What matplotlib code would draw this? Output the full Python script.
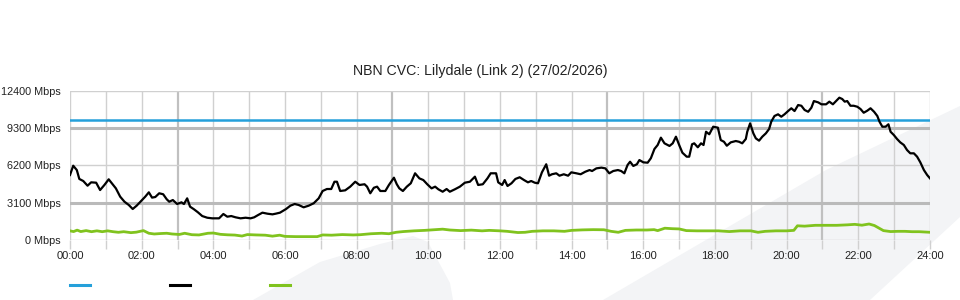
import matplotlib
matplotlib.use("Agg")
import matplotlib.pyplot as plt
from matplotlib.patches import Polygon
from matplotlib.lines import Line2D

# ---- data ----
title = "NBN CVC: Lilydale (Link 2) (27/02/2026)"
x_tick_labels = ["00:00", "02:00", "04:00", "06:00", "08:00", "10:00", "12:00",
                 "14:00", "16:00", "18:00", "20:00", "22:00", "24:00"]
y_tick_values = [0, 3100, 6200, 9300, 12400]
capacity_mbps = 10000

total_hours = [
    0.00, 0.09, 0.19, 0.26, 0.37, 0.49, 0.59, 0.73, 0.84, 0.96, 1.08, 1.19, 1.28,
    1.40, 1.52, 1.64, 1.75, 1.86, 2.01, 2.10, 2.20, 2.29, 2.38, 2.49, 2.60, 2.70,
    2.77, 2.87, 2.99, 3.11, 3.18, 3.27, 3.35, 3.46, 3.57, 3.69, 3.83, 3.97, 4.16,
    4.28, 4.39, 4.50, 4.62, 4.76, 4.90, 5.04, 5.14, 5.25, 5.37, 5.51, 5.65, 5.74,
    5.86, 6.03, 6.15, 6.27, 6.38, 6.52, 6.66, 6.80, 6.94, 7.05, 7.17, 7.29, 7.38,
    7.45, 7.54, 7.68, 7.82, 7.96, 8.08, 8.22, 8.29, 8.38, 8.48, 8.57, 8.66, 8.80,
    8.90, 9.04, 9.12, 9.19, 9.29, 9.40, 9.51, 9.63, 9.75, 9.86, 9.97, 10.09, 10.19,
    10.28, 10.40, 10.51, 10.60, 10.74, 10.88, 11.02, 11.16, 11.30, 11.39, 11.52,
    11.65, 11.74, 11.89, 11.95, 12.06, 12.13, 12.21, 12.32, 12.43, 12.55, 12.67,
    12.78, 12.87, 12.97, 13.06, 13.17, 13.29, 13.37, 13.45, 13.57, 13.66, 13.78,
    13.90, 13.99, 14.13, 14.25, 14.38, 14.50, 14.57, 14.69, 14.83, 14.94, 15.05,
    15.16, 15.29, 15.38, 15.47, 15.56, 15.63, 15.72, 15.82, 15.89, 16.00, 16.12,
    16.21, 16.31, 16.40, 16.49, 16.59, 16.73, 16.82, 16.91, 17.00, 17.09, 17.21,
    17.28, 17.36, 17.42, 17.52, 17.61, 17.68, 17.75, 17.84, 17.95, 18.08, 18.16,
    18.25, 18.33, 18.44, 18.58, 18.67, 18.76, 18.86, 18.90, 18.98, 19.07, 19.14,
    19.23, 19.32, 19.42, 19.51, 19.57, 19.66, 19.76, 19.85, 19.94, 20.04, 20.13,
    20.22, 20.32, 20.41, 20.50, 20.60, 20.69, 20.76, 20.88, 20.97, 21.10, 21.19,
    21.29, 21.38, 21.47, 21.55, 21.62, 21.69, 21.78, 21.87, 21.97, 22.06, 22.15,
    22.25, 22.34, 22.44, 22.53, 22.59, 22.67, 22.76, 22.84, 22.90, 22.99, 23.08,
    23.17, 23.27, 23.36, 23.45, 23.55, 23.64, 23.73, 23.83, 23.92, 24.00]
total_mbps = [
    5400, 6170, 5810, 5070, 4900, 4510, 4790, 4760, 4150, 4570, 5040, 4630, 4290,
    3600, 3180, 2910, 2575, 2850, 3320, 3600, 3960, 3520, 3570, 3880, 3800, 3380,
    3180, 3320, 2990, 3130, 2990, 3460, 2770, 2550, 2300, 1990, 1850, 1800, 1800,
    2160, 1935, 1990, 1885, 1800, 1850, 1800, 1885, 2075, 2270, 2185, 2130, 2185,
    2270, 2575, 2850, 2990, 2910, 2715, 2850, 3050, 3460, 4070, 4235, 4235, 4840,
    4840, 4070, 4125, 4430, 4840, 4570, 4630, 4430, 3880, 4340, 4430, 4070, 4070,
    4570, 5175, 4630, 4290, 4070, 4430, 4710, 5540, 5120, 4980, 4630, 4290, 4430,
    4210, 4010, 4235, 4010, 4210, 4430, 4760, 4840, 5260, 4570, 4630,
    5120, 5540, 5540, 4790, 4570, 4980, 4485, 4710, 5070, 5210, 4980,
    4790, 4900, 4760, 4710, 5620, 6290, 5340, 5460, 5540, 5340, 5460,
    5340, 5620, 5540, 5460, 5670, 5810, 5730, 5950, 6010, 5950, 5540,
    5730, 5810, 5730, 5540, 6230, 6500, 6150, 6290, 6640, 6450, 6420,
    6790, 7560, 7890, 8500, 8030, 7810, 8030, 8580, 7890, 7250, 6920,
    6920, 7950, 8030, 7700, 8030, 7890, 8990, 8780, 9410, 9330, 8300,
    8160, 7830, 8110, 8220, 8160, 8030, 8390, 8990, 9690, 8860, 8440,
    8250, 8580, 8860, 9220, 9830, 10300, 10440, 10240, 10440, 10710, 10940,
    10710, 11210, 11150, 10800, 10650, 10990, 11540, 11430, 11270, 11270, 11490,
    11270, 11540, 11820, 11710, 11490, 11540, 11150, 11150, 11070, 10880, 10570,
    10740, 10940, 10650, 10300, 9830, 9410, 9410, 9610, 8990, 8720, 8390,
    8110, 7890, 7470, 7200, 7200, 6920, 6450, 5810, 5400, 5120]

green_hours = [
    0.0, 0.1, 0.2, 0.3, 0.45, 0.6, 0.75, 0.9, 1.05, 1.2, 1.35, 1.5, 1.7, 1.85,
    2.05, 2.2, 2.35, 2.55, 2.7, 2.85, 3.05, 3.2, 3.4, 3.6, 3.85, 4.0, 4.2, 4.4,
    4.6, 4.8, 4.95, 5.2, 5.45, 5.65, 5.85, 6.0, 6.3, 6.6, 6.9, 7.05, 7.3, 7.6,
    7.9, 8.1, 8.4, 8.7, 8.9, 9.1, 9.3, 9.6, 9.9, 10.2, 10.4, 10.6, 10.9, 11.2,
    11.5, 11.7, 12.0, 12.2, 12.5, 12.7, 12.9, 13.2, 13.5, 13.8, 14.0, 14.3, 14.6,
    14.9, 15.1, 15.3, 15.5, 15.8, 16.1, 16.3, 16.4, 16.6, 16.8, 17.0, 17.2, 17.5,
    17.8, 18.1, 18.4, 18.7, 19.0, 19.2, 19.4, 19.7, 20.0, 20.2, 20.3, 20.5, 20.8,
    21.1, 21.4, 21.7, 21.9, 22.1, 22.3, 22.45, 22.7, 22.9, 23.1, 23.3, 23.5, 23.7,
    24.0]
green_mbps = [
    760, 700, 820, 700, 780, 690, 760, 690, 760, 690, 640, 690, 610, 650,
    780, 560, 500, 540, 560, 500, 460, 560, 440, 420, 560, 580, 470, 430,
    410, 330, 450, 420, 400, 320, 400, 300, 280, 280, 280, 420, 400, 450,
    420, 440, 520, 560, 520, 640, 700, 760, 800, 860, 900, 830, 780, 820,
    760, 800, 760, 720, 620, 640, 720, 760, 760, 720, 800, 840, 860,
    850, 720, 640, 800, 830, 830, 860, 780, 980, 940, 920, 780, 760,
    760, 760, 700, 760, 760, 640, 720, 760, 760, 800, 1180, 1150, 1220,
    1220, 1220, 1260, 1300, 1230, 1330, 1200, 780, 700, 720, 720, 690, 690,
    640]

# ---- figure ----
W, H = 960, 300
fig = plt.figure(figsize=(W / 100, H / 100), dpi=100)
plt.rcParams['font.family'] = ['Liberation Sans', 'DejaVu Sans']

# background watermark shapes (figure pixel coords -> fractions)
def fpoly(pts):
    return [(x / W, 1 - y / H) for x, y in pts]

wm = '#f3f4f6'
fig.patches.append(Polygon(fpoly([(253, 300), (320, 262), (380, 244), (413, 236),
                                  (428, 242), (450, 283), (453, 300)]),
                           closed=True, transform=fig.transFigure,
                           facecolor=wm, edgecolor='none', zorder=-5))
fig.patches.append(Polygon(fpoly([(603, 300), (826, 170), (960, 106), (960, 217),
                                  (870, 300)]),
                           closed=True, transform=fig.transFigure,
                           facecolor=wm, edgecolor='none', zorder=-5))

ax = fig.add_axes([70 / W, 60 / H, 860 / W, 149.3 / H])
ax.set_zorder(5)
ax.set_facecolor('none')
ax.set_xlim(0, 24)
ax.set_ylim(0, 12400)
for s in ax.spines.values():
    s.set_visible(False)

# grid
thin = '#d0d0d0'
thick = '#c0c0c0'
for h in range(25):
    if h % 6 == 3:
        ax.axvline(h, color=thick, lw=1.6, zorder=1)
    else:
        ax.axvline(h, color=thin, lw=1.0, zorder=1)
for v in y_tick_values:
    if v in (3100, 9300):
        ax.axhline(v, color='#bababa', lw=2.2, zorder=1)
    else:
        ax.axhline(v, color=thin, lw=1.0, zorder=1)

ax.set_xticks(range(0, 25, 2))
ax.set_xticklabels(x_tick_labels)
ax.set_xticks(range(0, 25), minor=True)
ax.tick_params(axis='x', which='both', length=6.5, width=1.0, color=thin,
               pad=1.5, labelsize=8, labelcolor='#222222')
ax.set_yticks(y_tick_values)
ax.set_yticklabels([f"{v} Mbps" for v in y_tick_values])
ax.tick_params(axis='y', length=0, pad=6.8, labelsize=7.8, labelcolor='#222222')

blue = '#25a0da'
green = '#80c31e'
ax.axhline(capacity_mbps, color=blue, lw=1.8, zorder=3)
ax.plot(green_hours, green_mbps, color=green, lw=2.0, zorder=3,
        solid_joinstyle='round')
ax.plot(total_hours, total_mbps, color='black', lw=1.6, zorder=4,
        solid_joinstyle='round')

fig.text(0.5, 1 - 71.5 / H, title, ha='center', va='center', fontsize=10.2,
         color='#222222')

# legend swatches (no labels)
for x0, c in [(70, blue), (170, 'black'), (270, green)]:
    fig.add_artist(Line2D([x0 / W, (x0 + 20) / W], [1 - 285 / H, 1 - 285 / H],
                          transform=fig.transFigure, color=c, lw=2.2))

fig.savefig('out.png', dpi=100)
